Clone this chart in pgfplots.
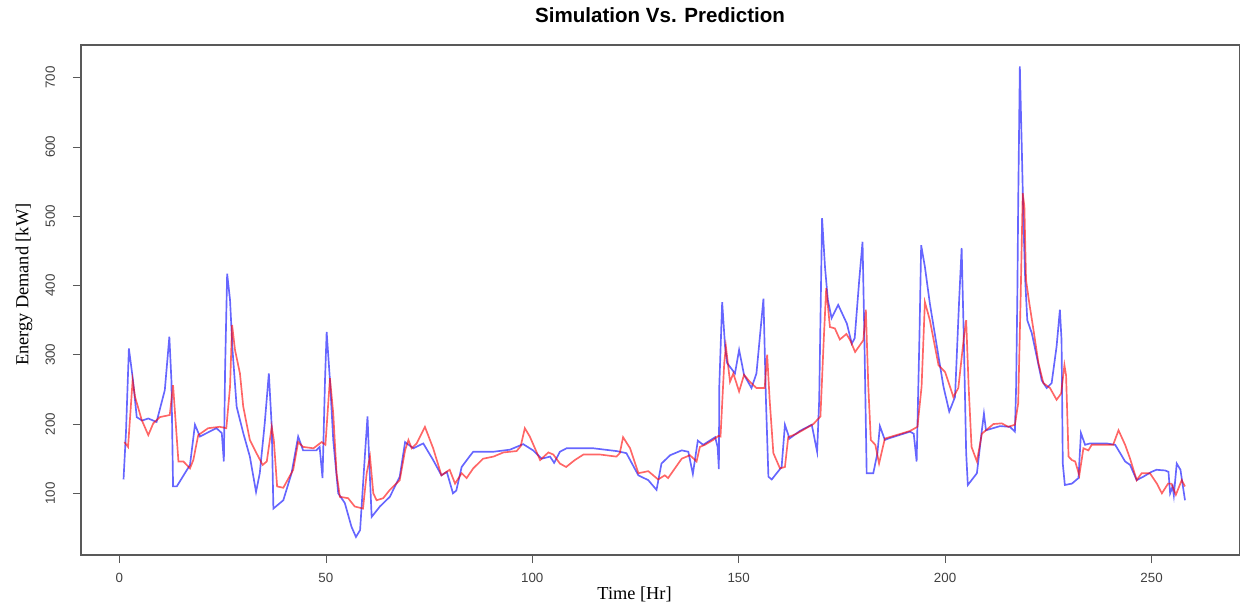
\documentclass[border=0pt]{standalone}
\usepackage{fontspec}
\setmainfont{Liberation Serif}
\newfontfamily\arial{Liberation Sans}
\usepackage{pgfplots}
\pgfplotsset{compat=1.18}

% simulated demand (blue) and predicted demand (red), kW per hour
\pgfplotstableread{
t v
1 120
1.6 189
2.3 309
3.3 263
4.2 210
5.5 205
7 208
9 203
11 249
12.1 326
12.6 263
13 110
13.9 110
17.1 141
18.3 199
19.5 182
23.5 194
24.8 187
25.3 146
25.6 278
26.1 417
26.8 379
27.4 307
28.4 225
30 187
31.6 153
33.1 102
34 129
35.2 201
36.2 273
36.9 196
37.3 78
39.7 90
41.7 129
43.3 182
44.5 162
47.7 162
48.5 167
49.2 122
49.8 263
50.2 333
51 263
51.8 177
53 100
54.6 86
56.2 52
57.3 37
58.3 47
59.5 158
60.1 211
60.5 148
61.1 66
63.1 81
65.5 95
67.9 124
69.2 174
71.2 165
73.6 172
76 148
78 126
79.3 131
80.8 100
81.6 104
82.9 138
84.9 154
85.7 160
90.6 160
94.6 163
97.8 171
100.2 162
102.3 150
104.3 153
105.3 144
106.7 160
108.3 165
114.8 165
120.4 161
122.8 158
125.7 126
128.1 119
130.1 105
131.3 143
133.4 155
136.2 162
137.8 160
138.9 128
140.1 176
141.4 170
144.3 181
144.9 167
145.2 135
145.3 254
146 376
146.7 312
147.2 288
149.1 273
150.1 307
151.3 271
153.1 252
154.3 273
156 381
156.6 235
157.2 124
158 120
160.4 138
161.2 199
162.3 179
164.8 190
167.7 199
169 160
169.5 235
170.2 497
170.9 427
171.6 379
172.5 353
174.1 372
176.2 345
177.4 316
178.1 324
179.2 408
180 463
180.4 340
181 129
182.6 129
183.6 158
184.2 197
185.4 177
186.2 179
191.5 189
192.4 186
193.1 146
193.8 331
194.2 458
195.1 427
196.3 374
198 312
199.6 254
201 218
202.4 239
203.4 379
204 454
204.5 331
205.1 158
205.5 112
207.7 129
208.9 191
209.4 215
209.9 191
213.3 197
215.7 196
216.9 189
217.2 254
217.5 389
217.7 518
218.1 716
218.6 591
219 485
219.4 408
219.9 350
221 331
222.2 297
223.4 263
224.6 252
225.8 259
227 312
227.8 365
228.2 321
228.5 143
229 112
230.7 114
232.3 122
232.9 187
233.9 170
235.1 172
239.1 172
241.2 170
243.6 146
244.8 141
246.4 119
248 124
250 131
251.2 134
253.3 133
254.1 131
254.5 100
255.1 110
255.4 97
256.1 143
257 134
257.5 114
258.1 90
}\simdata

\pgfplotstableread{
t v
1.2 174
2.1 167
3.2 263
3.8 239
5.4 206
7 184
8.2 201
9.8 210
12.2 213
13 256
14.3 146
15.5 146
16.3 141
17.1 136
17.9 148
19.1 184
21.5 194
24.3 196
25.9 194
26.8 254
27.3 343
28 307
29.2 273
30 225
31.6 177
33.2 158
34.7 141
35.7 146
36.9 196
37.4 177
38.2 110
39.7 108
42.1 134
43.3 174
44.5 167
47 165
49 174
49.9 170
51 266
51.8 215
52.6 129
53.4 95
55.4 93
57 81
59 78
59.9 129
60.7 153
61.5 100
62.3 90
63.9 93
65.5 105
67.9 119
69.2 162
70 177
70.8 165
72 172
74 196
76 165
78 126
80 134
81.3 114
82.9 129
84.1 122
85.7 136
88.1 150
90.6 153
93 159
96.2 161
97.2 168
98.2 194
99.4 182
101.9 148
103.9 159
105.1 156
106.7 143
108.2 138
110.3 148
112.4 156
116.4 156
120.4 153
121.2 158
122 181
123.7 165
125.7 129
128.1 132
130.5 120
132.1 126
132.9 122
136.2 150
138.2 155
139.8 146
140.6 167
141.8 170
143.8 177
145.1 183
145.6 182
146.5 288
146.9 312
147.9 261
148.7 273
150.1 247
151.3 271
152.7 261
154.3 252
156.3 252
156.9 300
157.5 235
158.4 158
160 136
161.2 138
162 181
164 186
168.1 200
169.8 211
170.6 321
171.2 396
172.1 340
173.3 338
174.5 322
176.1 330
177 321
178.2 304
180.2 321
180.8 365
181.4 254
182 177
183.1 170
184 143
185.4 179
191.5 190
193.3 196
194.3 254
195.1 376
196.3 350
198.4 285
200 275
202 239
203.2 252
204.6 328
205.1 350
205.7 254
206.4 167
207.7 146
208.9 186
209.9 191
211.7 200
213.7 201
215.3 196
216.9 199
217.7 230
218.3 384
218.8 533
219.2 514
219.6 408
220.4 374
221.4 336
222.6 288
223.8 259
225.4 252
227 235
228.1 244
228.9 285
229.3 270
229.9 153
230.7 148
231.5 146
232.5 126
233.5 165
234.7 162
235.5 170
240.7 170
242 191
243.6 170
244.8 150
246.4 119
247.6 129
249.6 129
251.3 114
252.5 100
254 114
254.8 114
255.9 98
257.3 119
258.1 110
}\preddata

\begin{document}
\begin{tikzpicture}
\begin{axis}[
    scale only axis,
    width=416.9pt, height=183.6pt,
    xmin=-9.3, xmax=271.2,
    ymin=11, ymax=747,
    xtick={0,50,...,250},
    ytick={100,200,...,700},
    axis line style={gray!70!black},
    tick style={gray!70!black},
    tick align=outside,
    major tick length=2.9pt,
    xtick pos=bottom, ytick pos=left,
    /pgf/number format/assume math mode=true,
    ticklabel style={font=\arial\fontsize{4.8}{5}\selectfont, text=gray!50!black},
    yticklabel style={rotate=90, anchor=south},
    yticklabel shift=2.9pt,
    title={Simulation Vs. Prediction},
    title style={font=\arial\bfseries\fontsize{7.4}{8}\selectfont, at={(axis description cs:0.5,1.0261)}, anchor=center},
    xlabel={Time [Hr]},
    xlabel style={font=\fontsize{6.6}{7}\selectfont, at={(axis description cs:0.478,-0.0763)}, anchor=center},
    ylabel={Energy Demand [kW]},
    ylabel style={font=\fontsize{6.6}{7}\selectfont, at={(axis description cs:-0.0492,0.53)}, anchor=center},
]
\addplot[blue, opacity=0.6, line width=0.6pt] table[x=t, y=v] {\simdata};
\addplot[red, opacity=0.6, line width=0.6pt] table[x=t, y=v] {\preddata};
\end{axis}
\pgfresetboundingbox
\path[use as bounding box] (-29.16pt,-19.44pt) rectangle (417.6pt,199.8pt);
\end{tikzpicture}
\end{document}
